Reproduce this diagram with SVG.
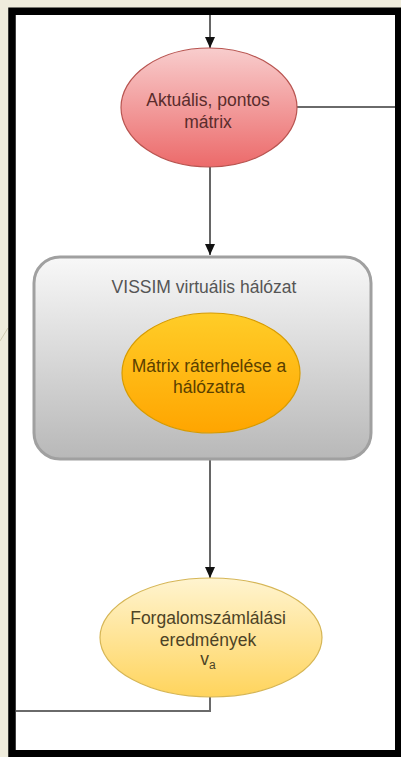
<svg xmlns="http://www.w3.org/2000/svg" width="401" height="757" viewBox="0 0 401 757">
<style>
.t{font-family:"Liberation Sans",Arial,sans-serif;font-size:17.5px;text-anchor:middle}
.c{fill:none;stroke:#333;stroke-width:1.5}
.g{fill:none;stroke:#6a6a6a;stroke-width:2}
</style>
<defs>
<marker id="ah" markerWidth="12" markerHeight="10" refX="11" refY="5" orient="auto" markerUnits="userSpaceOnUse" viewBox="0 0 12 10">
<path d="M0,0 L11,5 L0,10 Z" fill="#111"/>
</marker>
<linearGradient id="gr" x1="0" y1="0" x2="0" y2="1"><stop offset="0" stop-color="#f8cdcd"/><stop offset="1" stop-color="#ec6a6a"/></linearGradient>
<linearGradient id="go" x1="0" y1="0" x2="0" y2="1"><stop offset="0" stop-color="#ffcd28"/><stop offset="1" stop-color="#ffa500"/></linearGradient>
<linearGradient id="gy" x1="0" y1="0" x2="0" y2="1"><stop offset="0" stop-color="#fff4d0"/><stop offset="1" stop-color="#ffd45c"/></linearGradient>
<linearGradient id="gg" x1="0" y1="0" x2="0" y2="1"><stop offset="0" stop-color="#f8f8f8"/><stop offset="1" stop-color="#b8b8b8"/></linearGradient>
</defs>
<rect x="0" y="0" width="401" height="757" fill="#efecdc"/>
<line x1="0" y1="341" x2="8" y2="328" stroke="#cfcab0" stroke-width="1"/>
<rect x="12" y="11.25" width="386.75" height="742.5" fill="#fff" stroke="#000" stroke-width="7.5"/>
<g id="connectors">
<line class="c" x1="210" y1="15" x2="210" y2="48" marker-end="url(#ah)"/>
<line class="g" x1="297" y1="107" x2="395" y2="107"/>
<line class="c" x1="210" y1="167" x2="210" y2="255" marker-end="url(#ah)"/>
<line class="c" x1="210" y1="433" x2="210" y2="578" marker-end="url(#ah)"/>
<polyline class="g" points="210,697 210,711 16,711"/>
</g>
<g id="vissim">
<rect x="34" y="257" width="337" height="202" rx="26" fill="url(#gg)" stroke="#a0a0a0" stroke-width="3"/>
<text class="t" x="204" y="293" fill="#555">VISSIM virtuális hálózat</text>
</g>
<g id="aktualis">
<ellipse cx="209" cy="107.5" rx="88" ry="59.5" fill="url(#gr)" stroke="#b85450" stroke-width="1.2"/>
<text class="t" x="208" y="106" fill="#5a2c2c">Aktuális, pontos</text>
<text class="t" x="208" y="128" fill="#5a2c2c">mátrix</text>
</g>
<g id="matrix">
<ellipse cx="211" cy="373" rx="89" ry="60" fill="url(#go)" stroke="#d79b00" stroke-width="1.2"/>
<text class="t" x="209" y="372" fill="#5a4000">Mátrix ráterhelése a</text>
<text class="t" x="209" y="393" fill="#5a4000">hálózatra</text>
</g>
<g id="forgalom">
<ellipse cx="211" cy="637.5" rx="111" ry="59.5" fill="url(#gy)" stroke="#d6b656" stroke-width="1.2"/>
<text class="t" x="208" y="624" fill="#4d4326">Forgalomszámlálási</text>
<text class="t" x="208" y="646" fill="#4d4326">eredmények</text>
<text class="t" x="208" y="665" fill="#4d4326">v<tspan font-size="12" dy="4">a</tspan></text>
</g>
</svg>
